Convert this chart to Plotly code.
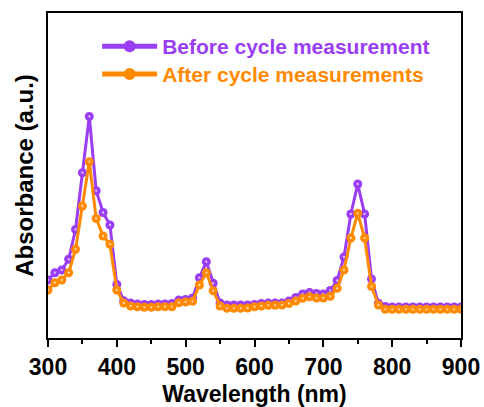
import plotly.graph_objects as go

wavelength = list(range(300, 901, 10))

# heights in arbitrary units
before_px = [280, 272.7, 270, 259.3, 229.5, 172.7, 116.5, 190.7, 212.5, 225,
             284.5, 300.7, 303, 304, 304.5, 304.5, 304, 304, 303.5, 300,
             299.5, 298, 277.7, 261.7, 283.3, 303, 305, 305, 305, 305,
             304.5, 303.5, 303, 303, 303, 301, 297.5, 294, 292.5, 293.5,
             294, 290.5, 280.5, 257, 214, 184, 214, 279, 303.3, 306.5,
             307, 307, 307, 307, 307, 307, 307, 307, 307, 307, 307]
after_px = [290, 282.7, 280, 272.7, 249.3, 206, 161.7, 218.5, 236, 244.2,
            290, 303, 306, 306.7, 307.3, 307.3, 306.7, 306.7, 306.7, 302.7,
            302, 301.3, 285, 272.7, 290.7, 306, 308.3, 308.3, 308.3, 308,
            306.7, 306, 305.3, 305.3, 305, 303.5, 301, 298.3, 296.7, 298,
            298, 296.3, 288.3, 270, 238, 213.3, 238, 286.5, 305, 309.3,
            309.3, 309.3, 309.3, 309.3, 309.3, 309.3, 309.3, 309.3, 309.3, 309.3, 309.3]
before = [338 - v for v in before_px]
after = [338 - v for v in after_px]

names = ["Before cycle measurement", "After cycle measurements"]
purple = "#9B3DF2"
orange = "#FF8A00"
purple_hi = "#DCC4FF"
orange_hi = "#FFD9A6"

font_family = "Arial, Liberation Sans, sans-serif"

fig = go.Figure()
for y, name, c, hi, lg in [(before, names[0], purple, purple_hi, "legend"),
                           (after, names[1], orange, orange_hi, "legend2")]:
    fig.add_trace(go.Scatter(
        x=wavelength, y=y, mode="lines+markers",
        name=f"<span style='color:{c}'>{name}</span>",
        legend=lg,
        line=dict(color=c, width=3),
        marker=dict(symbol="circle", size=9, color=c, line=dict(width=0)),
    ))
    fig.add_trace(go.Scatter(
        x=wavelength, y=y, mode="markers", showlegend=False, hoverinfo="skip",
        marker=dict(symbol="circle", size=2.3, color=hi, line=dict(width=0)),
    ))

legend_style = dict(
    xanchor="left", yanchor="top", bgcolor="rgba(0,0,0,0)",
    font=dict(size=21, family=font_family, weight="bold"),
    itemsizing="constant", itemwidth=55,
)

fig.update_layout(
    width=484, height=407,
    margin=dict(l=48, r=23, t=13, b=69),
    paper_bgcolor="white", plot_bgcolor="white",
    font=dict(family=font_family, color="black"),
    showlegend=True,
    legend=dict(x=0.119, y=0.96, **legend_style),
    legend2=dict(x=0.119, y=0.874, **legend_style),
    xaxis=dict(
        range=[300, 900], tickmode="array", automargin=False,
        tickvals=[300, 400, 500, 600, 700, 800, 900],
        ticks="outside", ticklen=7, tickwidth=2, tickcolor="black",
        minor=dict(tickvals=[350, 450, 550, 650, 750, 850], ticks="outside", ticklen=4, tickwidth=2, tickcolor="black"),
        showline=True, linewidth=2, linecolor="black", mirror=True,
        showgrid=False, zeroline=False,
        tickfont=dict(size=23, family=font_family, weight="bold"),
        title=dict(text="Wavelength (nm)", font=dict(size=23, family=font_family, weight="bold"), standoff=8),
    ),
    yaxis=dict(
        range=[0, 325], showticklabels=False, ticks="", automargin=False,
        showline=True, linewidth=2, linecolor="black", mirror=True,
        showgrid=False, zeroline=False,
        title=dict(text="Absorbance (a.u.)", font=dict(size=24, family=font_family, weight="bold"), standoff=6),
    ),
)

fig.write_html(
    "out.html",
    config={"displayModeBar": False},
    post_script="document.body.style.margin='0';document.body.style.padding='0';document.body.style.overflow='hidden';",
)
